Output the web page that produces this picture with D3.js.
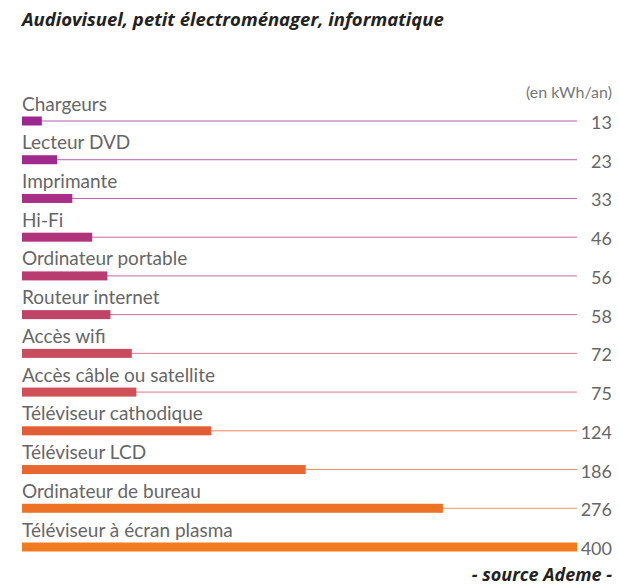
<!DOCTYPE html>
<html>
<head>
<meta charset="utf-8">
<script src="https://cdn.jsdelivr.net/npm/d3@7"></script>
<style>
  html, body { margin: 0; padding: 0; background: #fff; }
</style>
</head>
<body>
<svg id="chart"></svg>
<script>
// data
const categories = [
  'Chargeurs', 'Lecteur DVD', 'Imprimante', 'Hi-Fi', 'Ordinateur portable',
  'Routeur internet', 'Accès wifi', 'Accès câble ou satellite',
  'Téléviseur cathodique', 'Téléviseur LCD', 'Ordinateur de bureau',
  'Téléviseur à écran plasma'
];
const values = [13, 23, 33, 46, 56, 58, 72, 75, 124, 186, 276, 400];
const barColors = [
  '#9c2590', '#a0298c', '#a72f85', '#af347c', '#b93c70', '#bf4268',
  '#c84b5e', '#cf5157', '#e25c36', '#e8662f', '#ee7226', '#f17b1e'
];

const width = 619, height = 586;
const left = 22, lineEnd = 577, right = 612;

const svg = d3.select('#chart')
  .attr('width', width)
  .attr('height', height);

// the plasma bar runs off the scale, it is cut at the end of the lines
const x = d3.scaleLinear().domain([0, 400]).range([left, left + 610]);
const y = d3.scalePoint().domain(categories).range([121, 547]);
const barH = 9;

const rows = categories.map((c, i) => ({ key: c, value: values[i], color: barColors[i] }));

// title
svg.append('text')
  .attr('x', left)
  .attr('y', 26)
  .style('font-family', '"Open Sans", sans-serif')
  .style('font-style', 'italic')
  .style('font-weight', 700)
  .style('font-size', '18.5px')
  .style('fill', '#222')
  .text('Audiovisuel, petit électroménager, informatique');

svg.append('text')
  .attr('x', right)
  .attr('y', 98)
  .attr('text-anchor', 'end')
  .style('font-family', 'Lato, sans-serif')
  .style('font-size', '16px')
  .style('fill', '#777')
  .text('(en kWh/an)');

const row = svg.selectAll('g.row')
  .data(rows)
  .enter()
  .append('g')
  .attr('class', 'row');

// thin guide line to the value
row.append('line')
  .attr('x1', left)
  .attr('x2', lineEnd)
  .attr('y1', d => y(d.key))
  .attr('y2', d => y(d.key))
  .attr('stroke', d => d.color)
  .attr('stroke-opacity', 0.75)
  .attr('stroke-width', 1);

row.append('rect')
  .attr('x', left)
  .attr('y', d => y(d.key) - barH / 2)
  .attr('width', d => Math.min(x(d.value), lineEnd) - left)
  .attr('height', barH)
  .attr('fill', d => d.color);

row.append('text')
  .attr('x', left)
  .attr('y', d => y(d.key) - barH / 2 - 6)
  .style('font-family', 'Lato, sans-serif')
  .style('font-size', '19px')
  .style('fill', '#666')
  .text(d => d.key);

row.append('text')
  .attr('x', right)
  .attr('y', d => y(d.key) + 8)
  .attr('text-anchor', 'end')
  .style('font-family', 'Lato, sans-serif')
  .style('font-size', '18px')
  .style('fill', '#666')
  .text(d => d.value);

// source
svg.append('text')
  .attr('x', right)
  .attr('y', 581)
  .attr('text-anchor', 'end')
  .style('font-family', '"Open Sans", sans-serif')
  .style('font-style', 'italic')
  .style('font-weight', 700)
  .style('font-size', '18px')
  .style('fill', '#222')
  .text('- source Ademe -');
</script>
</body>
</html>
